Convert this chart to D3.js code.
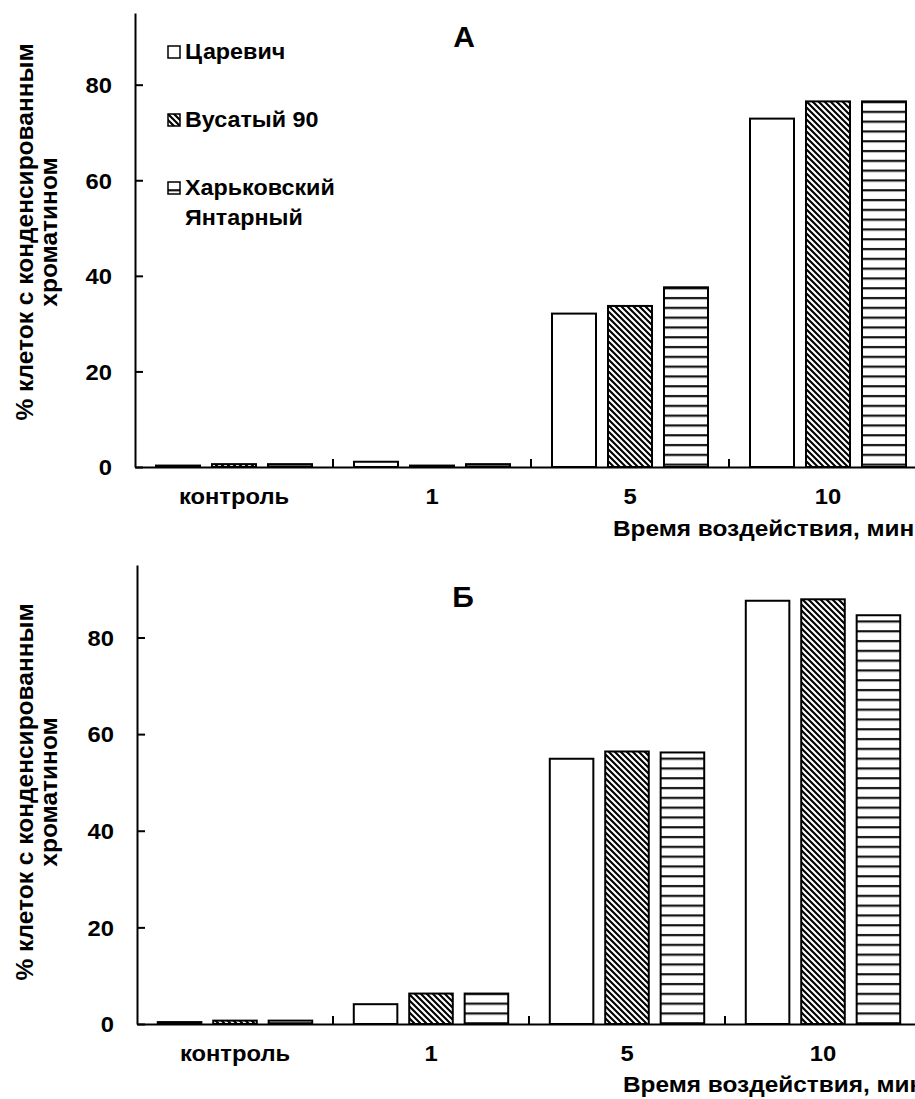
<!DOCTYPE html>
<html>
<head>
<meta charset="utf-8">
<script src="https://cdn.jsdelivr.net/npm/d3@7"></script>
<style>
  html, body { margin: 0; padding: 0; background: #fff; }
  svg { display: block; }
  text { font-family: "Liberation Sans", Arial, sans-serif; font-weight: bold; fill: #000; }
</style>
</head>
<body>
<svg id="chart" width="915" height="1099"></svg>
<script>
// ---- Data ----
const categories = ["контроль", "1", "5", "10"];
const seriesNames = ["Царевич", "Вусатый 90", "Харьковский Янтарный"];
const legendLines = [["Царевич"], ["Вусатый 90"], ["Харьковский", "Янтарный"]];
const panelA_tsarevich = [0.3, 1.1, 32.1, 72.9];
const panelA_vusatyi   = [0.6, 0.3, 33.7, 76.5];
const panelA_kharkiv   = [0.6, 0.6, 37.6, 76.5];
const panelB_tsarevich = [0.4, 4.1, 54.9, 87.6];
const panelB_vusatyi   = [0.7, 6.3, 56.4, 87.9];
const panelB_kharkiv   = [0.7, 6.3, 56.2, 84.6];
const yTicks = [0, 20, 40, 60, 80];
const yMax = 95;
const panelTitles = ["А", "Б"];
const xAxisTitle = "Время воздействия, мин";
const yTitleLines = ["% клеток с конденсированным", "хроматином"];

// ---- Setup ----
const svg = d3.select("#chart");
const SX = 1.09; // horizontal glyph stretch of the original
const FS = 21.8;
const defs = svg.append("defs");

const diag = defs.append("pattern").attr("id", "diag")
  .attr("patternUnits", "userSpaceOnUse").attr("width", 6).attr("height", 6);
diag.append("rect").attr("width", 6).attr("height", 6).attr("fill", "#fff");
diag.append("path").attr("d", "M-1,-1 L7,7 M-4,2 L2,8 M4,-2 L10,4")
  .attr("stroke", "#000").attr("stroke-width", 2.1);

const horiz = defs.append("pattern").attr("id", "horiz")
  .attr("patternUnits", "userSpaceOnUse").attr("width", 10).attr("height", 9.8);
horiz.append("rect").attr("width", 10).attr("height", 9.8).attr("fill", "#fff");
horiz.append("rect").attr("y", 3).attr("width", 10).attr("height", 2.2).attr("fill", "#111");

const fills = ["#fff", "url(#diag)", "url(#horiz)"];

function stretchText(sel, sx = SX) {
  sel.each(function () {
    const t = d3.select(this);
    const x = +(t.attr("x") || 0);
    const y = +(t.attr("y") || 0);
    t.attr("x", 0).attr("y", 0)
     .attr("transform", `translate(${x},${y}) scale(${sx},1)`);
  });
}

function drawPanel(cfg) {
  const g = svg.append("g");
  const x = d3.scaleBand().domain(categories)
    .range([cfg.x0, cfg.x0 + cfg.bandW * categories.length]).padding(0);
  const xs = d3.scaleBand().domain(seriesNames)
    .range([0, x.bandwidth()]).paddingInner(12 / 56).paddingOuter(0.375);
  const y = d3.scaleLinear().domain([0, yMax]).range([cfg.y0, cfg.yTop]);

  // bars
  const rows = categories.map((c, i) => ({
    cat: c,
    vals: seriesNames.map((s, j) => ({ s, j, v: cfg.values[j][i] }))
  }));
  const grp = g.selectAll("g.cat").data(rows).join("g")
    .attr("transform", d => `translate(${x(d.cat)},0)`);
  grp.selectAll("rect").data(d => d.vals).join("rect")
    .attr("x", d => xs(d.s))
    .attr("width", xs.bandwidth())
    .attr("y", d => y(d.v))
    .attr("height", d => y(0) - y(d.v))
    .attr("fill", d => fills[d.j])
    .attr("stroke", "#000").attr("stroke-width", 2);

  // y axis
  const ya = g.append("g").attr("transform", `translate(${cfg.x0},0)`)
    .call(d3.axisLeft(y).tickValues(yTicks).tickSizeInner(-8).tickSizeOuter(0).tickPadding(23));
  ya.select(".domain").attr("stroke-width", 2);
  ya.selectAll(".tick line").attr("stroke-width", 2);
  ya.selectAll("text").attr("font-size", FS).attr("dy", "0.36em");
  stretchText(ya.selectAll("text"));

  // x axis
  const xa = g.append("g").attr("transform", `translate(0,${cfg.y0})`)
    .call(d3.axisBottom(x).tickSize(0).tickPadding(22));
  xa.select(".domain").attr("stroke-width", 2);
  xa.selectAll("text").attr("font-size", FS);
  stretchText(xa.selectAll("text"));
  // separator ticks between categories
  g.selectAll("line.sep").data(categories.slice(1)).join("line")
    .attr("class", "sep")
    .attr("x1", d => x(d)).attr("x2", d => x(d))
    .attr("y1", cfg.y0).attr("y2", cfg.y0 - 8)
    .attr("stroke", "#000").attr("stroke-width", 2);

  // axis title
  g.append("text").attr("x", cfg.axisTitleX).attr("y", cfg.axisTitleY)
    .attr("font-size", FS).text(xAxisTitle)
    .call(stretchText, 1.12);

  // panel title
  g.append("text").attr("x", cfg.titleX).attr("y", cfg.titleY)
    .attr("text-anchor", "middle").attr("font-size", 30).text(cfg.title);

  // y title
  const yt = g.append("text")
    .attr("transform", `translate(33,${cfg.yTitleCenter}) rotate(-90)`)
    .attr("text-anchor", "middle").attr("font-size", 24.5);
  yt.append("tspan").attr("x", 0).attr("y", 0).text(yTitleLines[0]);
  yt.append("tspan").attr("x", 0).attr("y", 24).text(yTitleLines[1]);

  // legend
  if (cfg.legend) {
    const lg = g.append("g");
    const ly = [52, 120, 188];
    seriesNames.forEach((s, j) => {
      lg.append("rect").attr("x", 168).attr("y", ly[j] - 6).attr("width", 12).attr("height", 12)
        .attr("fill", fills[j]).attr("stroke", "#000").attr("stroke-width", 1.5);
      legendLines[j].forEach((line, k) => {
        lg.append("text").attr("x", 185).attr("y", ly[j] + 7 + k * 30)
          .attr("font-size", FS).text(line).call(stretchText, 1.07);
      });
    });
  }
}

drawPanel({
  values: [panelA_tsarevich, panelA_vusatyi, panelA_kharkiv],
  x0: 135, bandW: 198, y0: 467, yTop: 13,
  title: panelTitles[0], titleX: 464, titleY: 47,
  axisTitleX: 613, axisTitleY: 536, yTitleCenter: 232, legend: true
});
drawPanel({
  values: [panelB_tsarevich, panelB_vusatyi, panelB_kharkiv],
  x0: 137, bandW: 196, y0: 1024, yTop: 565,
  title: panelTitles[1], titleX: 463, titleY: 607,
  axisTitleX: 623, axisTitleY: 1092, yTitleCenter: 792, legend: false
});
</script>
</body>
</html>
